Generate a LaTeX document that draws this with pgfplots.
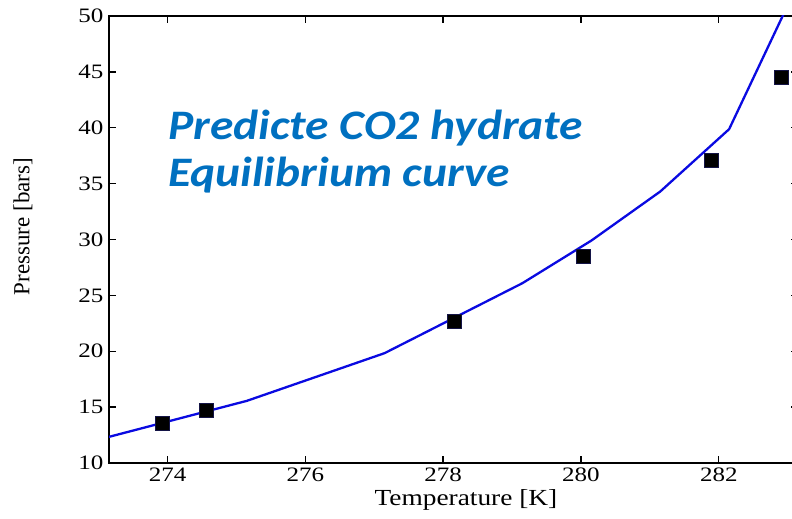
\documentclass[border=0pt]{standalone}
\usepackage{pgfplots}
\pgfplotsset{compat=1.18}
\usepackage{fontspec}
\setmainfont{Liberation Serif}
\newfontfamily\titlefont{Carlito}
\definecolor{titleblue}{HTML}{0070C0}
\definecolor{curveblue}{RGB}{10,10,225}

\begin{document}
\begin{tikzpicture}
\path[use as bounding box] (0,0) rectangle (792bp,519bp);
\begin{axis}[
  at={(109bp,56bp)}, anchor=south west,
  scale only axis, width=689bp, height=447bp,
  xmin=273.15, xmax=283.15, ymin=10, ymax=50,
  xtick={274,276,278,280,282},
  ytick={10,15,20,25,30,35,40,45,50},
  tick align=inside, major tick length=7bp,
  tick style={black, line width=1.4bp},
  axis line style={black, line width=2bp},
  /pgf/number format/assume math mode=true,
  tick label style={font=\fontsize{20.5bp}{22bp}\selectfont, xscale=1.22},
  xticklabel style={yshift=-1bp},
  yticklabel style={xshift=-1bp},
  xlabel={Temperature [K]},
  ylabel={Pressure [bars]},
  label style={font=\fontsize{23bp}{25bp}\selectfont},
  xlabel style={at={(axis description cs:0.518,0)}, anchor=base,
    xscale=1.19, yshift=-42bp},
  ylabel style={at={(axis description cs:0,0.529)}, anchor=center, yshift=86bp},
]
% predicted equilibrium curve
\addplot[curveblue, line width=2.3bp] coordinates {
  (273.15,12.34) (275.15,15.56) (277.15,19.83) (279.15,26.09)
  (280.15,29.90) (281.15,34.29) (282.15,39.87) (283.15,52.90)
};
% measured hydrate points
\addplot[only marks, mark=square*, mark size=7bp,
  mark options={fill=black, draw={rgb,255:red,20;green,20;blue,70}, line width=0.8bp}]
  coordinates {
  (273.93,13.57) (274.57,14.67) (278.17,22.63)
  (280.03,28.53) (281.90,37.12) (282.91,44.48)
};
\end{axis}
\node[anchor=base west, text=titleblue, inner sep=0pt, xscale=1.13,
  font=\titlefont\bfseries\itshape\fontsize{42bp}{47bp}\selectfont]
  at (168bp,379bp) {Predicte CO2 hydrate};
\node[anchor=base west, text=titleblue, inner sep=0pt, xscale=1.13,
  font=\titlefont\bfseries\itshape\fontsize{42bp}{47bp}\selectfont]
  at (168bp,332.5bp) {Equilibrium curve};
\end{tikzpicture}
\end{document}
